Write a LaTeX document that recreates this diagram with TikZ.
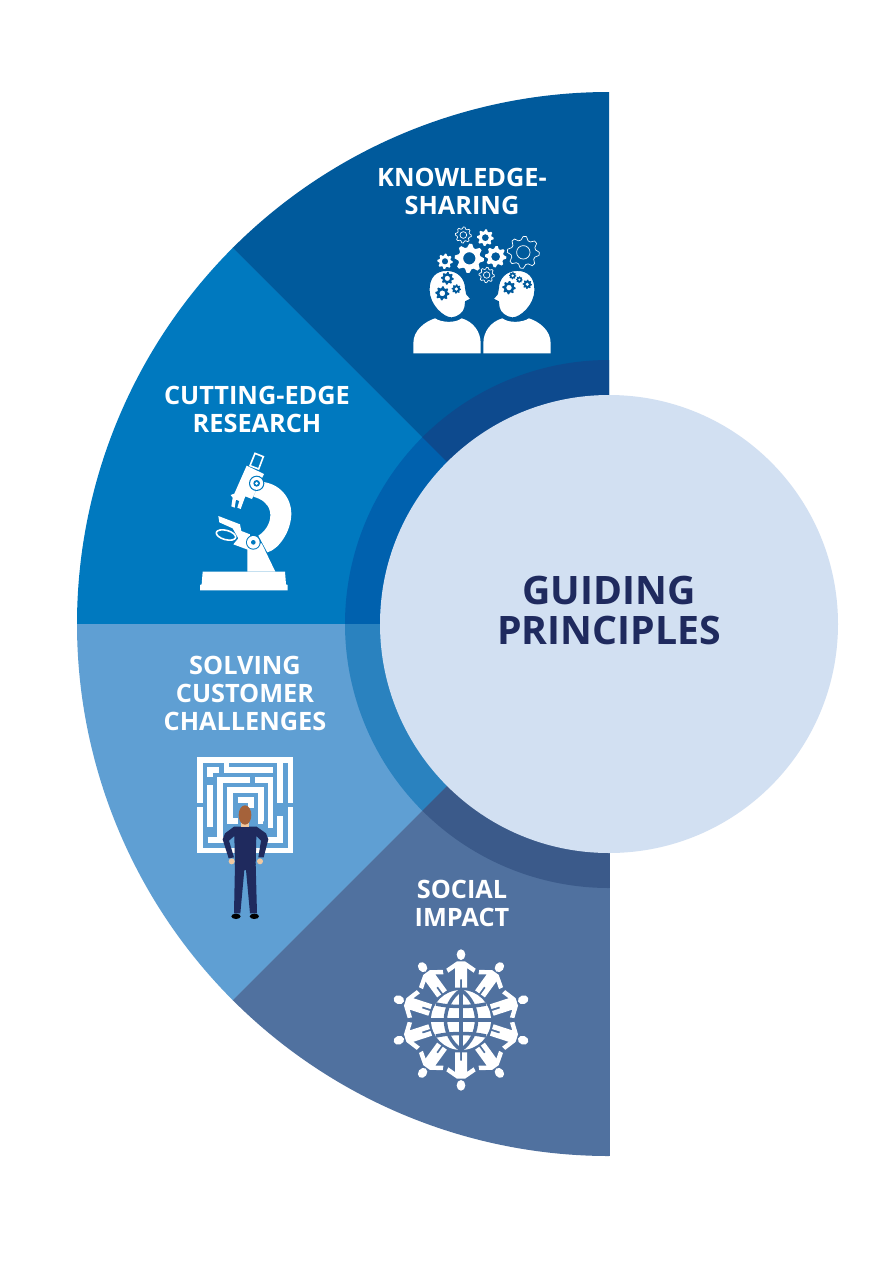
\documentclass[tikz,border=0pt]{standalone}
\usepackage{fontspec}
\setmainfont{Open Sans}
\definecolor{secA}{HTML}{005A9C}
\definecolor{secB}{HTML}{0079BF}
\definecolor{secC}{HTML}{5F9FD3}
\definecolor{secD}{HTML}{50719F}
\definecolor{ringA}{HTML}{0D4A8E}
\definecolor{ringB}{HTML}{0061AE}
\definecolor{ringC}{HTML}{2A82BF}
\definecolor{ringD}{HTML}{3B5A8A}
\definecolor{core}{HTML}{D2E0F2}
\definecolor{navy}{HTML}{1F2A5E}
\definecolor{hair}{HTML}{A5623A}
\definecolor{skin}{HTML}{F0C8A0}
\newcommand{\wedgeshape}[4]{\fill[#4] (609,624) -- ++(#1:#3) arc[start angle=#1,end angle=#2,radius=#3] -- cycle; \draw[#4,line width=0.5pt] (609,624) -- ++(#1:#3);}
\newcommand{\solidcog}[4]{\fill[#4,even odd rule,shift={(#1,#2)}] plot[samples=33,domain=0:360] (\x:{ifthenelse(mod(\x+1,45)<22.5,#3,0.76*#3)}) -- cycle (0,0) circle ({0.42*#3});}
\newcommand{\linecog}[3]{\draw[white,line width=0.7pt,shift={(#1,#2)}] plot[samples=33,domain=0:360] (\x:{ifthenelse(mod(\x+1,45)<22.5,#3,0.78*#3)}) -- cycle (0,0) circle ({0.42*#3});}
\tikzset{
  seclabel/.style={text=white,font=\fontsize{25.3}{28}\selectfont\bfseries,align=center,inner sep=0pt},
  mainlabel/.style={text=navy,font=\fontsize{39.2}{40}\selectfont\bfseries,align=center,inner sep=0pt},
  mazeline/.style={draw=white,line width=5.2pt,line cap=butt,line join=miter}
}
\newcommand{\headperson}{%
  \fill[white] (70,400) -- (70,370) .. controls (70,330) and (105,305) .. (135,295) .. controls (155,308) and (195,310) .. (215,295) .. controls (250,305) and (272,335) .. (272,370) -- (272,400) -- cycle;
  \fill[white,draw=secA,line width=1.2pt] (117,210) .. controls (117,170) and (138,151) .. (170,151) .. controls (205,151) and (226,175) .. (227,205) -- (230,222) -- (243,237) -- (227,245) -- (225,262) .. controls (222,278) and (205,292) .. (185,294) .. controls (160,294) and (117,255) .. (117,210) -- cycle;
}
\newcommand{\spoke}[1]{%
  \begin{scope}[rotate=#1]
    \fill[white] (0,-196) ellipse (13 and 16);
    \fill[white] (-12,-176) -- (12,-176) -- (44,-154) -- (38,-142) -- (18,-156) -- (18,-97) -- (3,-97) -- (3,-122) -- (-3,-122) -- (-3,-97) -- (-18,-97) -- (-18,-156) -- (-38,-142) -- (-44,-154) -- cycle;
  \end{scope}
}
\begin{document}
\begin{tikzpicture}[x=1pt,y=1pt,yscale=-1]
\useasboundingbox (0,0) rectangle (895,1280);
\fill[white] (0,0) rectangle (895,1280);
% sectors
\wedgeshape{225}{270}{532}{secA}
\wedgeshape{180}{225}{532}{secB}
\wedgeshape{135}{180}{532}{secC}
\wedgeshape{90}{135}{532}{secD}
% rings
\wedgeshape{225}{270}{264}{ringA}
\wedgeshape{180}{225}{264}{ringB}
\wedgeshape{135}{180}{264}{ringC}
\wedgeshape{90}{135}{264}{ringD}
\fill[core] (609,624) circle (229);
% labels
\node[mainlabel] (core) at (609,610) {GUIDING\\PRINCIPLES};
\node[seclabel] (know) at (462,191) {KNOWLEDGE-\\SHARING};
\node[seclabel] (cut) at (257,409) {CUTTING-EDGE\\RESEARCH};
\node[seclabel] (solve) at (245,693) {SOLVING\\CUSTOMER\\CHALLENGES};
\node[seclabel] (social) at (462,903) {SOCIAL\\IMPACT};
% knowledge icon
\begin{scope}[shift={(390,220)},scale=1/3]
  \headperson
  \begin{scope}[shift={(552,0)},xscale=-1]\headperson\end{scope}
  \solidcog{238}{115}{44}{white}
  \solidcog{165}{124}{23}{white}
  \solidcog{317}{110}{32}{white}
  \solidcog{286}{53}{25}{white}
  \linecog{220}{45}{24}
  \linecog{290}{165}{23}
  \linecog{400}{97}{48}
  \solidcog{172}{175}{19}{secA}
  \solidcog{157}{220}{21}{secA}
  \solidcog{199}{207}{14}{secA}
  \solidcog{357}{203}{20}{secA}
  \solidcog{368}{167}{11}{secA}
  \solidcog{388}{179}{10}{secA}
  \solidcog{412}{193}{14}{secA}
\end{scope}
% microscope icon
\begin{scope}[shift={(190,445)},scale=1/3]
  \fill[white] (38,380) -- (285,380) -- (288,418) -- (293,420) -- (293,436) -- (30,436) -- (30,420) -- (35,418) -- cycle;
  \fill[white] (172,295) -- (215,295) -- (256,380) -- (172,380) -- cycle;
  \fill[white] (210,110) .. controls (270,113) and (304,160) .. (304,205) .. controls (304,260) and (265,314) .. (232,322) -- (205,272) .. controls (232,255) and (245,225) .. (240,200) .. controls (235,175) and (215,162) .. (190,155) -- cycle;
  \fill[white] (170,62) -- (222,87) -- (186,162) -- (166,154) -- (160,170) -- (152,192) -- (142,188) -- (148,168) -- (138,164) -- (134,188) -- (124,184) -- (128,158) -- (122,150) -- (133,146) -- cycle;
  \draw[white,line width=1.6pt] (195,25) -- (220,35) -- (206,72) -- (180,62) -- cycle;
  \fill[secB] (200,115) circle (23);
  \fill[white] (200,115) circle (19.5);
  \fill[secB] (200,115) circle (10);
  \fill[white] (200,115) circle (5);
  \fill[white] (85,213) -- (150,238) -- (154,258) -- (180,268) -- (176,315) -- (130,298) -- (145,280) -- (128,250) -- (88,232) -- cycle;
  \draw[white,line width=1.6pt,rotate around={15:(108,270)}] (108,270) ellipse (30 and 14);
  \fill[secB] (190,292) circle (22);
  \fill[white] (190,292) circle (19);
  \fill[secB] (190,292) circle (7);
\end{scope}
% maze and man
\begin{scope}[shift={(185,750)},scale=1/3]
  \draw[mazeline] (45,158) -- (45,30) -- (316,30) -- (316,158);
  \draw[mazeline] (45,172) -- (45,301) -- (316,301) -- (316,172);
  \draw[mazeline] (125,38) -- (125,60) -- (265,60);
  \draw[mazeline] (103,60) -- (75,60) -- (75,82);
  \draw[mazeline] (75,105) -- (75,232);
  \draw[mazeline] (195,90) -- (105,90) -- (105,265);
  \draw[mazeline] (210,90) -- (257,90) -- (257,235);
  \draw[mazeline] (285,38) -- (285,160);
  \draw[mazeline] (285,198) -- (285,270) -- (230,270);
  \draw[mazeline] (68,270) -- (130,270);
  \draw[mazeline] (235,215) -- (228,215) -- (228,120) -- (135,120) -- (135,213) -- (160,213);
  \draw[mazeline] (158,150) -- (198,150) -- (198,175);
  \fill[navy] (147,230) -- (215,230) -- (243,250) -- (250,268) -- (236,322) -- (220,322) -- (228,272) -- (214,258) -- (212,345) -- (150,345) -- (148,258) -- (132,272) -- (147,322) -- (131,325) -- (113,268) -- (120,250) -- cycle;
  \fill[navy] (150,340) -- (212,340) -- (216,490) -- (195,490) -- (183,360) -- (178,360) -- (166,490) -- (147,490) -- cycle;
  \fill[black] (153,499) ellipse (14 and 8);
  \fill[black] (208,499) ellipse (14 and 8);
  \fill[skin] (140,334) circle (9);
  \fill[skin] (225,334) circle (9);
  \fill[skin] (168,218) rectangle (192,230);
  \fill[hair] (180,195) ellipse (19 and 29);
\end{scope}
% social impact icon
\begin{scope}[shift={(385,945)},scale=1/3,shift={(228,225)}]
  \foreach \a in {0,36,...,324} {\spoke{\a}}
  \fill[secD] (0,0) circle (94);
  \fill[white] (0,0) circle (90);
  \draw[secD,line width=3.5pt] (0,-92) -- (0,92);
  \draw[secD,line width=3.5pt] (0,-90) .. controls (-62,-45) and (-62,45) .. (0,90);
  \draw[secD,line width=3.5pt] (0,-90) .. controls (62,-45) and (62,45) .. (0,90);
  \draw[secD,line width=3.5pt] (-92,0) -- (92,0);
  \draw[secD,line width=3.5pt] (-75,-48) .. controls (-30,-38) and (30,-38) .. (75,-48);
  \draw[secD,line width=3.5pt] (-75,48) .. controls (-30,38) and (30,38) .. (75,48);
\end{scope}
\end{tikzpicture}
\end{document}
